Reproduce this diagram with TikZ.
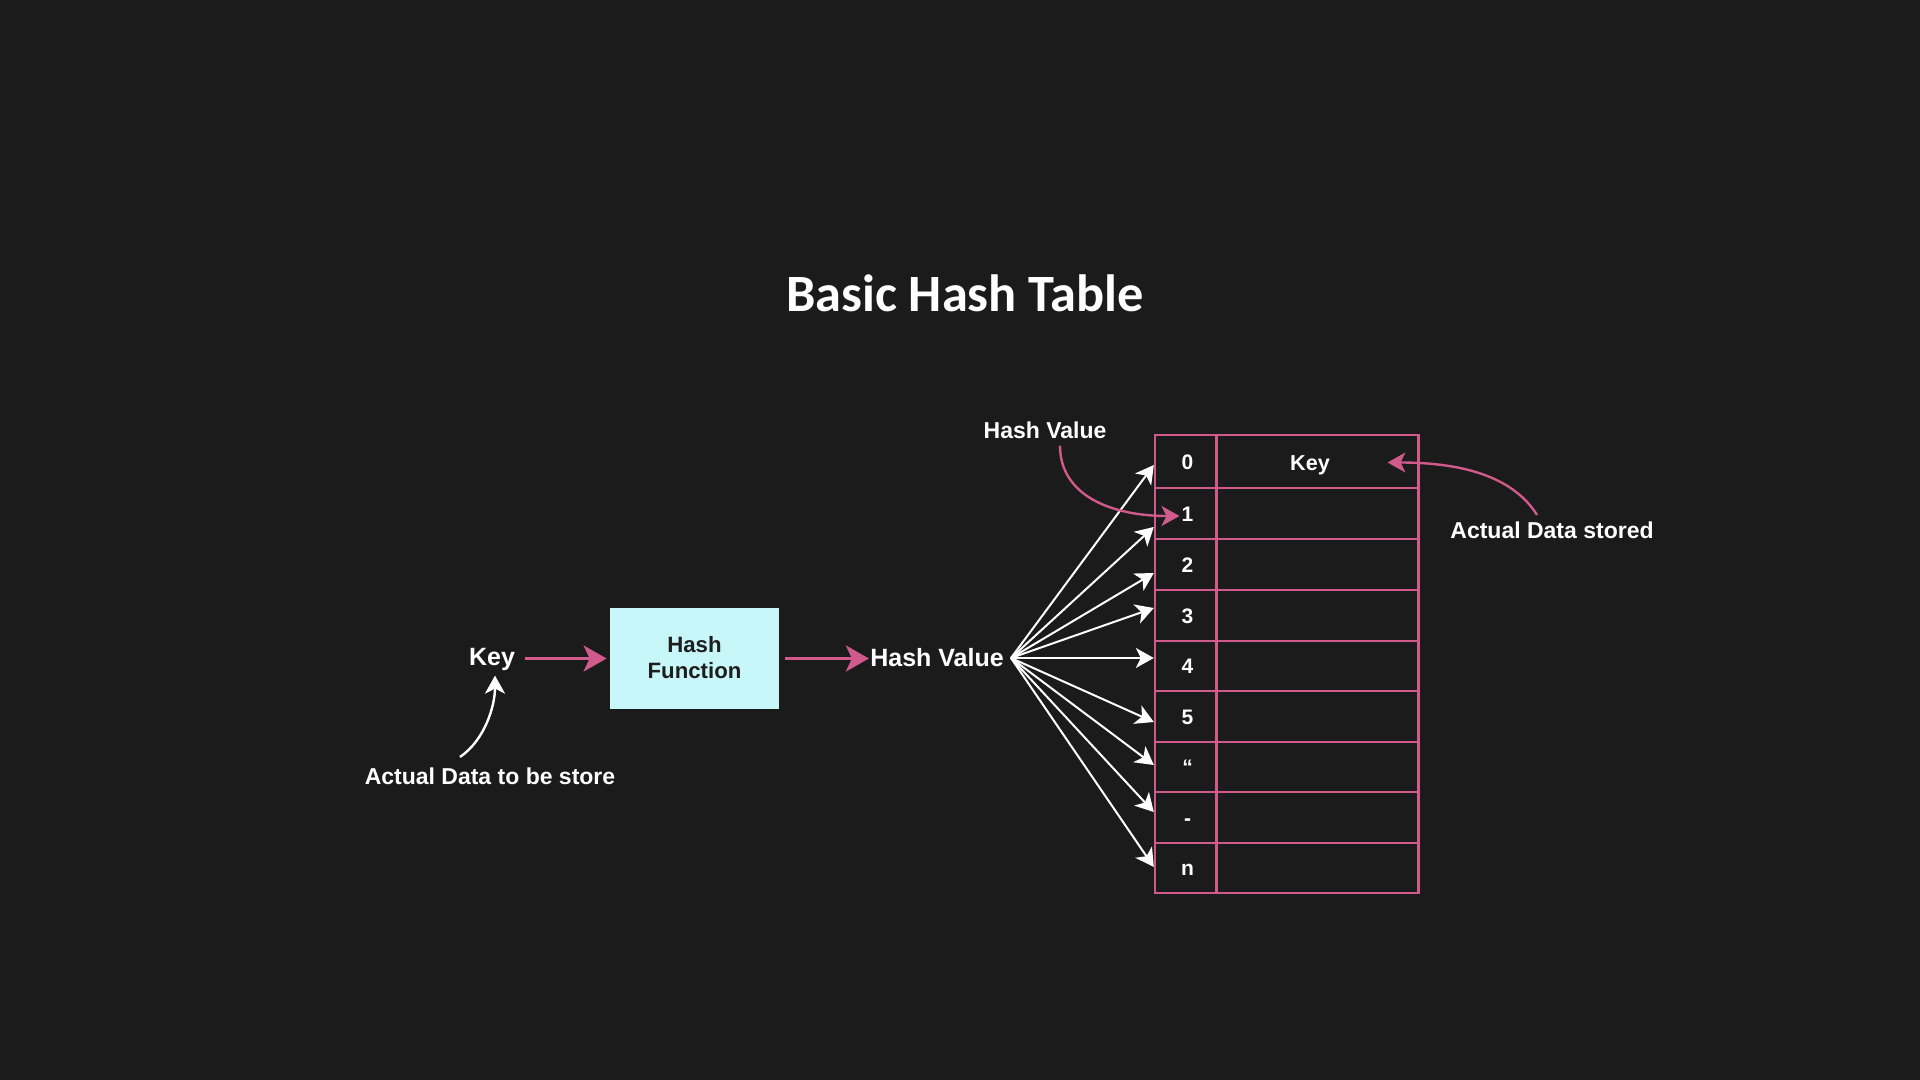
\documentclass[tikz,border=0pt]{standalone}
\usepackage{fontspec}
\setmainfont{Liberation Sans}
\newfontfamily\titlefont{Carlito}
\usetikzlibrary{arrows.meta,calc}
\definecolor{bg}{HTML}{1B1B1B}
\definecolor{hpink}{HTML}{D05A8C}
\definecolor{hcyan}{HTML}{C8F7F9}
\definecolor{dark}{HTML}{1E1E1E}
\begin{document}
\begin{tikzpicture}[x=0.5pt,y=-0.5pt,
  txt/.style={text=white,font=\bfseries\fontsize{11.5pt}{13pt}\selectfont,inner sep=0pt,anchor=base},
  bigtxt/.style={text=white,font=\bfseries\fontsize{12.5pt}{15pt}\selectfont,inner sep=0pt,anchor=base},
  cell/.style={draw=hpink,line width=1.2pt,inner sep=0pt,text=white,
    font=\bfseries\fontsize{10.5pt}{12pt}\selectfont,text height=7.6pt,text depth=0pt},
  hfbox/.style={fill=hcyan,minimum width=84.5pt,minimum height=50.5pt,align=center,
    text=dark,font=\bfseries\fontsize{11.1pt}{13pt}\selectfont,inner sep=0pt},
  bigpink/.style={draw=hpink,line width=1.5pt,-{Stealth[length=11.5pt,width=13pt,inset=3pt]}},
  thinpink/.style={draw=hpink,line width=1.2pt,-{Stealth[length=9pt,width=10pt,inset=2.5pt]}},
  fanarrow/.style={draw=white,line width=1pt,-{Stealth[length=9pt,width=10pt,inset=2.5pt]}},
  whitecurve/.style={draw=white,line width=1.2pt,-{Stealth[length=9pt,width=10pt,inset=2.5pt]}}
]
\fill[bg] (0,0) rectangle (1920,1080);
\useasboundingbox (0,0) rectangle (1920,1080);

% title
\node[text=white,font=\titlefont\bfseries\fontsize{26.2pt}{31pt}\selectfont,anchor=base,inner sep=0pt] (title) at (965,312) {Basic Hash Table};

% left part
\node[bigtxt] (key) at (492,665) {Key};
\node[hfbox] (hf) at (694.5,658.5) {\raisebox{0.8pt}{Hash}\\\raisebox{0.8pt}{Function}};
\node[bigtxt] (hv) at (937,666) {Hash Value};
\node[txt] (adts) at (490,784) {Actual Data to be store};
\coordinate (fan) at (1011,658);

\draw[bigpink, shorten <=5pt, shorten >=1.5pt] (hf.west -| key.east) -- (hf.west);
\draw[bigpink, shorten <=3pt, shorten >=0.5pt] (hf.east) -- (hf.east -| hv.west);
\draw[whitecurve] ([xshift=-15pt,yshift=5pt]adts.north) .. controls +(25,-17) and +(0,30) .. ([xshift=1.5pt,yshift=-2.5pt]key.south);

% table
\foreach \i/\yc/\h/\lab in {0/461.5/53/0, 1/513.5/51/1, 2/564.5/51/2, 3/615.5/51/3, 4/666/50/4, 5/716.5/51/5, 6/767/50/“, 7/817.5/51/-, 8/868/50/n}{
  \node[cell,minimum width=30.5pt,minimum height=\h*0.5pt,text width=30.5pt,align=center] (i\i) at (1185.5,\yc) {\hspace*{2pt}\lab};
  \node[cell,minimum width=101pt,minimum height=\h*0.5pt] (v\i) at (1317.5,\yc) {};
}
\node[text=white,font=\bfseries\fontsize{10.8pt}{12pt}\selectfont,inner sep=0pt,anchor=base] (tkey) at (1310,470) {Key};

% fan arrows
\foreach \i/\s in {0/-1.75, 1/-6.75, 2/-4.25, 3/3.75, 4/4, 5/-2.75, 6/1, 7/2.75, 8/0.5}{
  \draw[fanarrow] (fan) -- ([yshift=\s pt]i\i.west);
}

% annotations on the right
\node[txt] (hvs) at (1045,438) {Hash Value};
\draw[thinpink] ([xshift=7.5pt,yshift=-3.5pt]hvs.south) .. controls +(0,50) and +(-68,0) .. ([xshift=-3pt,yshift=-1.25pt]i1.center);

\node[txt] (ads) at (1552,538) {Actual Data stored};
\draw[thinpink] ([xshift=-7.5pt,yshift=3pt]ads.north) .. controls +(-22,-35) and +(82,0) .. ([xshift=35pt,yshift=-0.5pt]v0.center);
\end{tikzpicture}
\end{document}
